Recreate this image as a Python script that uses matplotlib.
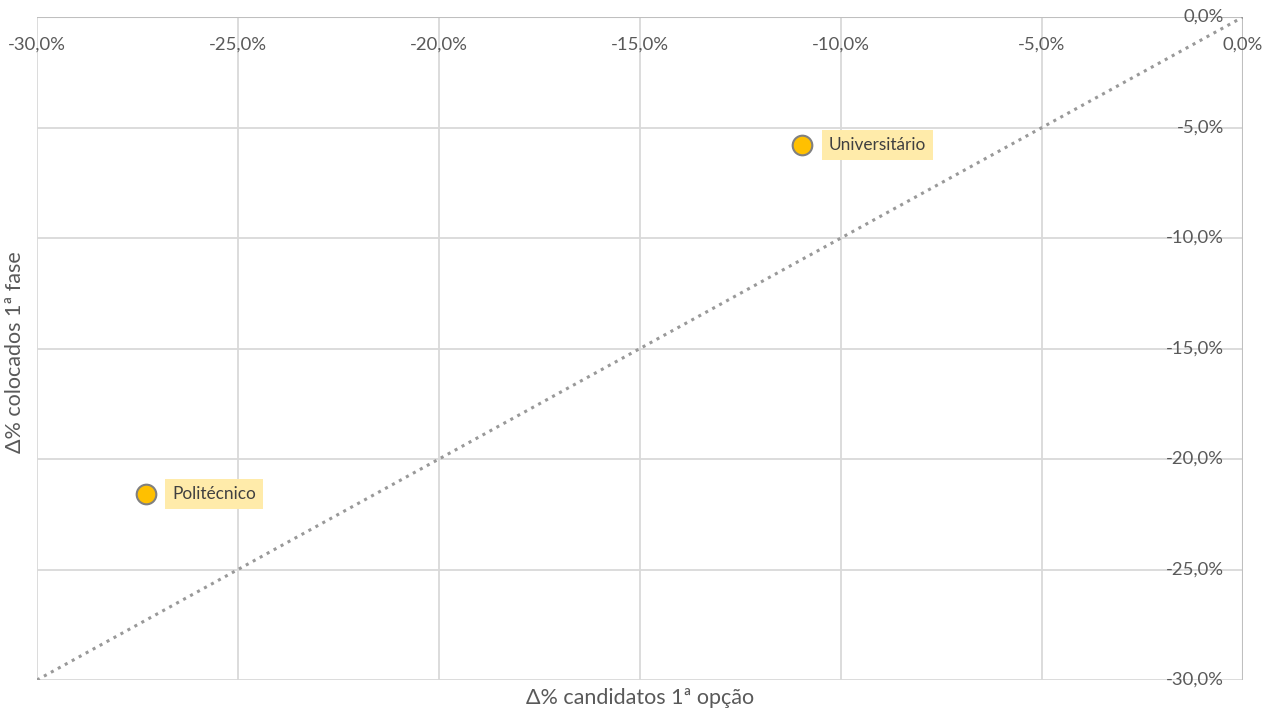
import matplotlib.pyplot as plt
import matplotlib.transforms as mtransforms

# Data (% change)
names = ["Universitário", "Politécnico"]
d_candidatos = [-10.97, -27.3]   # x: Δ% candidatos 1ª opção
d_colocados = [-5.8, -21.6]      # y: Δ% colocados 1ª fase
ref_line = [-30.0, 0.0]          # y = x reference
ticks = [-30, -25, -20, -15, -10, -5, 0]

plt.rcParams['font.family'] = ['Lato', 'DejaVu Sans']
txt = '#595959'
grid = '#d9d9d9'

fig = plt.figure(figsize=(12.68, 7.10), dpi=100)
ax = fig.add_axes([37/1268, 1 - 680/710, (1243-37)/1268, (680-17)/710])
ax.set_xlim(-30, 0)
ax.set_ylim(-30, 0)

for t in ticks:
    ax.axvline(t, color=grid, lw=1.3, zorder=0)
    ax.axhline(t, color=grid, lw=1.3, zorder=0)
for s in ax.spines.values():
    s.set_visible(False)
ax.axhline(0, color='#bfbfbf', lw=1.5, zorder=1)
ax.axvline(0, color='#bfbfbf', lw=1.5, zorder=1)
ax.set_xticks([])
ax.set_yticks([])

fmt = lambda v: f"{v:.1f}%".replace('.', ',')
xt = mtransforms.offset_copy(ax.get_xaxis_transform(), fig=fig, y=-28, units='dots')
for t in ticks:
    ax.text(t, 1, fmt(t), transform=xt, ha='center', va='center', fontsize=13.3, color=txt)
yt = mtransforms.offset_copy(ax.get_yaxis_transform(), fig=fig, x=-19, units='dots')
for t in ticks:
    ax.text(1, t, fmt(t), transform=yt, ha='right', va='center', fontsize=13.3, color=txt)

ax.plot(ref_line, ref_line, color='#999999', lw=2.2, linestyle=(0, (1, 1.6)), zorder=2)

ax.scatter(d_candidatos, d_colocados, s=200, color='#FFC000', edgecolor='#808080',
           linewidth=1.5, zorder=4)
for n, x, y in zip(names, d_candidatos, d_colocados):
    ax.annotate(n, (x, y), xytext=(19, 0), textcoords='offset points', ha='left', va='center',
                fontsize=12.4, color='#404040', zorder=5,
                bbox=dict(boxstyle='square,pad=0.4', facecolor='#FFEBAA', edgecolor='none'))

fig.text(640/1268, 1 - 698/710, "Δ% candidatos 1ª opção", ha='center', va='center',
         fontsize=15.5, color=txt)
fig.text(15/1268, 1 - 352/710, "Δ% colocados 1ª fase", ha='center', va='center',
         rotation=90, fontsize=15.5, color=txt)

fig.savefig('out.png', dpi=100)
